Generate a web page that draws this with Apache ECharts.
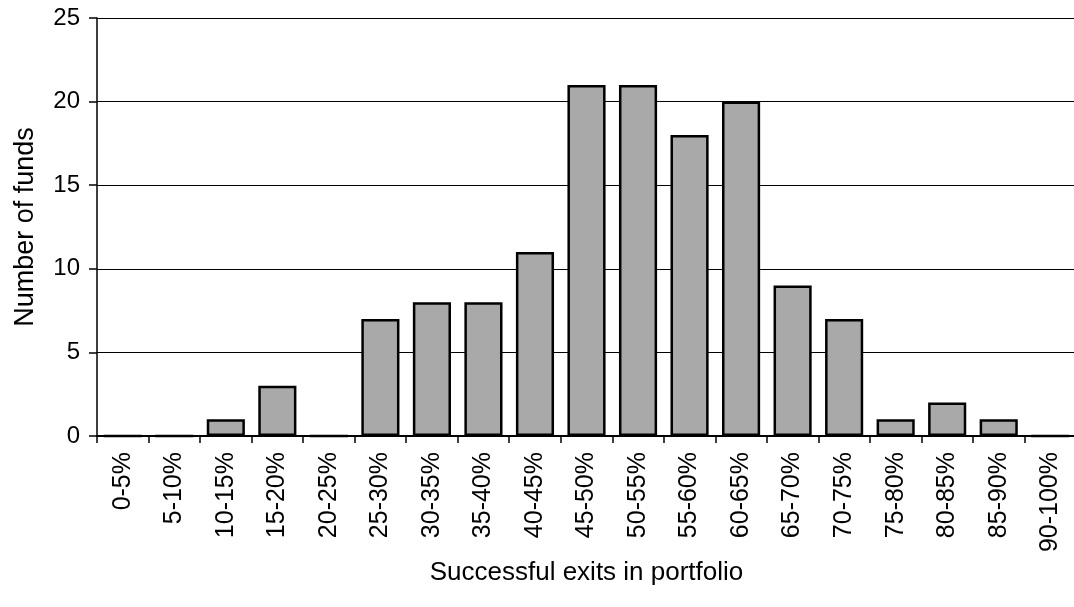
<!DOCTYPE html>
<html>
<head>
<meta charset="utf-8">
<script src="https://cdn.jsdelivr.net/npm/echarts@6/dist/echarts.min.js"></script>
<style>
  html, body { margin: 0; padding: 0; background: #fff; }
  #chart { width: 1074px; height: 607px; }
</style>
</head>
<body>
<div id="chart"></div>
<script>
// Distribution of funds by share of successful exits
const exitBands = ['0-5%', '5-10%', '10-15%', '15-20%', '20-25%', '25-30%', '30-35%', '35-40%',
  '40-45%', '45-50%', '50-55%', '55-60%', '60-65%', '65-70%', '70-75%', '75-80%', '80-85%',
  '85-90%', '90-100%'];
const fundCounts = [0, 0, 1, 3, 0, 7, 8, 8, 11, 21, 21, 18, 20, 9, 7, 1, 2, 1, 0];
const yTicks = [0, 5, 10, 15, 20, 25];

const font = 'Liberation Sans, Arial, sans-serif';
const chart = echarts.init(document.getElementById('chart'));
chart.setOption({
  animation: false,
  grid: { left: 97, top: 18, right: -2, bottom: 171, containLabel: false, outerBoundsMode: 'none' },
  xAxis: {
    type: 'category',
    data: exitBands,
    name: 'Successful exits in portfolio',
    nameLocation: 'middle',
    nameGap: 122,
    nameTextStyle: { fontFamily: font, fontSize: 26, color: '#000' },
    axisLine: { lineStyle: { color: '#000', width: 2 } },
    axisTick: { show: true, length: 7, lineStyle: { color: '#000', width: 1.5 } },
    axisLabel: { rotate: 90, fontFamily: font, fontSize: 25, color: '#000', margin: 16, interval: 0 }
  },
  yAxis: {
    type: 'value',
    min: yTicks[0],
    max: yTicks[yTicks.length - 1],
    interval: 5,
    name: 'Number of funds',
    nameLocation: 'middle',
    nameGap: 58,
    nameTextStyle: { fontFamily: font, fontSize: 27, color: '#000' },
    axisLine: { show: true, lineStyle: { color: '#000', width: 1.5 } },
    axisTick: { show: true, length: 8, lineStyle: { color: '#000', width: 1.5 } },
    axisLabel: { fontFamily: font, fontSize: 24, color: '#000', margin: 17 },
    splitLine: { show: true, lineStyle: { color: '#000', width: 1 } }
  },
  series: [{
    type: 'bar',
    data: fundCounts,
    barCategoryGap: '26%',
    itemStyle: { color: '#a9a9a9', borderColor: '#000', borderWidth: 2.5 }
  }]
});
</script>
</body>
</html>
